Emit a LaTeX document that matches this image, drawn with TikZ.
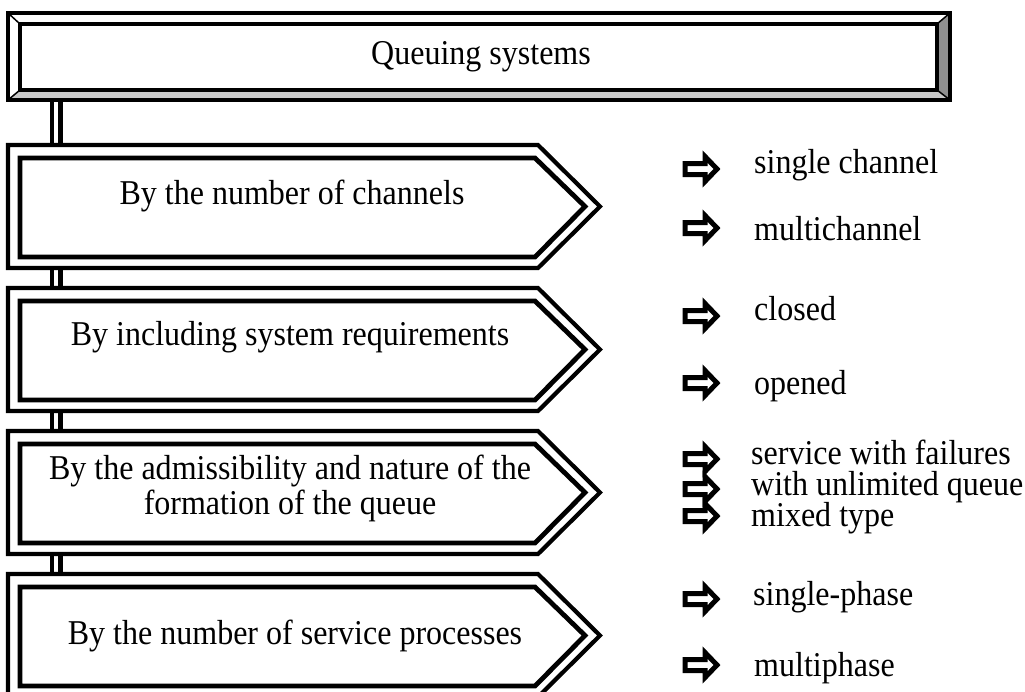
\documentclass[tikz,border=0pt]{standalone}
\usepackage{fontspec}
\setmainfont{Liberation Serif}[FakeStretch=0.92]
\definecolor{bevl}{HTML}{C8C8C8}
\definecolor{bevd}{HTML}{909090}
\begin{document}
\begin{tikzpicture}[x=1pt,y=-1pt,
  lbl/.style={font=\fontsize{34.8}{35}\selectfont, inner sep=0pt, align=center},
  item/.style={font=\fontsize{34.8}{35}\selectfont, inner sep=0pt, anchor=west, text height=22pt, text depth=7pt},
  conn/.style={draw=black, line width=4.5pt, double=white, double distance=4pt},
  sigbox/.pic={
    \draw[line width=4.2pt, line join=miter] (8,0) -- (538,0) -- (600,61.5) -- (538,123) -- (8,123) -- cycle;
    \draw[line width=4.8pt, line join=miter] (20,13) -- (535,13) -- (585,61.5) -- (535,112) -- (20,112) -- cycle;
  },
  pointer/.pic={
    \draw[line width=5pt, fill=white, line join=miter] (0,-5.5) -- (20,-5.5) -- (20,-12.5) -- (32,0) -- (20,12.5) -- (20,5.5) -- (0,5.5) -- cycle;
  }]
\clip (0,0) rectangle (1025,691);
\fill[white] (0,0) rectangle (1025,691);

% connector end points
\coordinate (tb) at (56,100);
\coordinate (b1t) at (56,145);
\coordinate (b1b) at (56,268);
\coordinate (b2t) at (56,288);
\coordinate (b2b) at (56,411);
\coordinate (b3t) at (56,431);
\coordinate (b3b) at (56,554);
\coordinate (b4t) at (56,574);

\draw[conn] (tb) -- (b1t);
\draw[conn] (b1b) -- (b2t);
\draw[conn] (b2b) -- (b3t);
\draw[conn] (b3b) -- (b4t);

% title box with bevel
\fill[white] (8,13) rectangle (950,100);
\fill[bevl] (8,100) -- (20,90) -- (937,90) -- (950,100) -- cycle;
\fill[bevd] (950,13) -- (937,24) -- (937,90) -- (950,100) -- cycle;
\draw[line width=1.5pt] (8,13) -- (20,24) (950,13) -- (937,24) (8,100) -- (20,90) (950,100) -- (937,90);
\draw[line width=4.2pt, line join=miter] (8,13) rectangle (950,100);
\draw[line width=4.8pt, line join=miter] (20,24) rectangle (937,90);
\node[lbl] (title) at (481,57) {Queuing systems};

% category boxes
\pic at (0,145) {sigbox};
\pic at (0,288) {sigbox};
\pic at (0,431) {sigbox};
\pic at (0,574) {sigbox};

\node[lbl] (c1) at (292,196) {By the number of channels};
\node[lbl] (c2) at (290,337) {By including system requirements};
\node[lbl] (c3) at (290,488) {By the admissibility and nature of the\\formation of the queue};
\node[lbl] (c4) at (295,636) {By the number of service processes};

% items
\pic at (685,169) {pointer};
\node[item] (i1) at (754,166) {single channel};
\pic at (685,228) {pointer};
\node[item] (i2) at (754,233) {multichannel};
\pic at (685,316) {pointer};
\node[item] (i3) at (754,313) {closed};
\pic at (685,383) {pointer};
\node[item] (i4) at (754,387) {opened};
\pic at (685,459) {pointer};
\node[item] (i5) at (751,457) {service with failures};
\pic at (685,489) {pointer};
\node[item] (i6) at (751,488) {with unlimited queue};
\pic at (685,516) {pointer};
\node[item] (i7) at (751,519) {mixed type};
\pic at (685,599) {pointer};
\node[item] (i8) at (753,598) {single-phase};
\pic at (685,665) {pointer};
\node[item] (i9) at (754,669) {multiphase};
\end{tikzpicture}
\end{document}
